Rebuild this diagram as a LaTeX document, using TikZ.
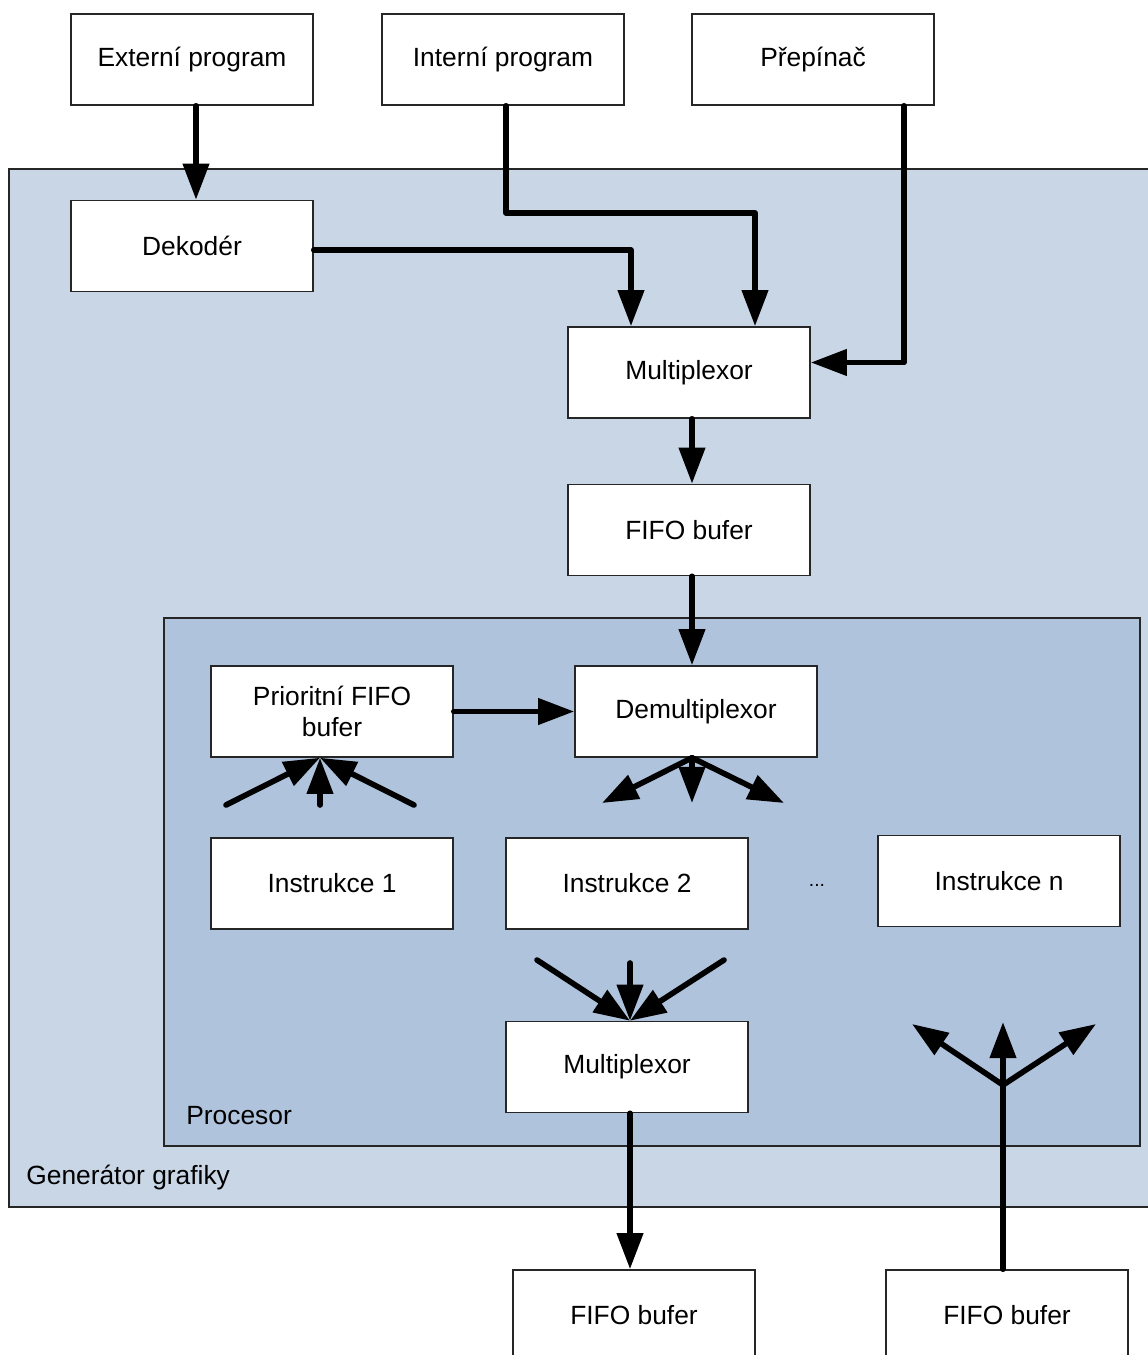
\documentclass[tikz,border=0pt]{standalone}
\usepackage{fontspec}
\setmainfont{Liberation Sans}
\usetikzlibrary{arrows.meta,calc}
\definecolor{genfill}{HTML}{C9D6E6}
\definecolor{procfill}{HTML}{B0C3DC}
\definecolor{edge}{HTML}{262626}
\tikzset{
  blockbox/.style={draw=edge, line width=0.9pt, fill=white, minimum width=4.84cm,
    minimum height=1.82cm, inner sep=0pt, align=center,
    font=\fontsize{15}{18}\selectfont},
  area/.style={draw=edge, line width=0.9pt},
  arealabel/.style={anchor=west, inner sep=0pt, font=\fontsize{15}{18}\selectfont},
  flow/.style={line width=3.2pt, line cap=round, line join=round,
    -{Triangle[length=20.5pt, width=14.5pt]}},
  wire/.style={line width=3.2pt, line cap=round, line join=round},
}
\begin{document}
\begin{tikzpicture}[x=0.02cm, y=-0.02cm]
\path[use as bounding box] (0,0) rectangle (1148,1355);
\clip (0,0) rectangle (1148,1355);

% enclosing areas
\path[area, fill=genfill] (9,169) rectangle (1165,1207);
\node[arealabel] (genlabel) at (26,1178) {Generátor grafiky};
\path[area, fill=procfill] (164,618) rectangle (1140,1146);
\node[arealabel] (proclabel) at (186,1116) {Procesor};

% blocks
\node[blockbox] (ext)   at (192,59.5)  {Externí program};
\node[blockbox] (int)   at (503,59.5)  {Interní program};
\node[blockbox] (pre)   at (813,59.5)  {Přepínač};
\node[blockbox] (dek)   at (192,246)   {Dekodér};
\node[blockbox] (muxA)  at (689,372.5) {Multiplexor};
\node[blockbox] (fifo)  at (689,530)   {FIFO bufer};
\node[blockbox] (prio)  at (332,711.5) {Prioritní FIFO\\bufer};
\node[blockbox] (demux) at (696,711.5) {Demultiplexor};
\node[blockbox] (ins1)  at (332,883.5) {Instrukce 1};
\node[blockbox] (ins2)  at (627,883.5) {Instrukce 2};
\node[blockbox] (insn)  at (999,881)   {Instrukce n};
\node[blockbox] (muxB)  at (627,1067)  {Multiplexor};
\node[blockbox] (fifoL) at (634,1315.5) {FIFO bufer};
\node[blockbox] (fifoR) at (1007,1315.5) {FIFO bufer};
\node[inner sep=0pt, anchor=base, font=\fontsize{11}{11}\selectfont] (dots) at (817,886) {...};

% free ends of the fan arrows
\coordinate (pinL) at (226,805);
\coordinate (pinM) at (320,805);
\coordinate (pinR) at (414,805);
\coordinate (doutL) at (602,803);
\coordinate (doutM) at (692,803);
\coordinate (doutR) at (784,803);
\coordinate (minL) at (537,960);
\coordinate (minM) at (630,963);
\coordinate (minR) at (724,960);
\coordinate (fork) at (1003,1085);
\coordinate (foutL) at (912,1024);
\coordinate (foutM) at (1003,1022);
\coordinate (foutR) at (1096,1024);

% top connections
\draw[flow] ($(ext.south)+(4,0)$) -- ($(dek.north)+(4,0)$);
\draw[flow] ($(int.south)+(3,0)$) -- ++(0,107) -| ($(muxA.north)+(66,0)$);
\draw[flow] ($(dek.east)+(0,4)$) -| ($(muxA.north)+(-58,0)$);
\draw[flow] ($(pre.south)+(91,0)$) |- ($(muxA.east)+(0,-10)$);
\draw[flow] ($(muxA.south)+(3,0)$) -- ($(fifo.north)+(3,0)$);
\draw[flow] ($(fifo.south)+(3,0)$) -- ($(demux.north)+(-4,0)$);
\draw[flow] (prio.east) -- (demux.west);

% fans inside the processor
\foreach \p in {pinL,pinM,pinR}
  \draw[flow] (\p) -- ($(prio.south)+(-12,0)$);
\foreach \p in {doutL,doutM,doutR}
  \draw[flow] ($(demux.south)+(-4,0)$) -- (\p);
\foreach \p in {minL,minM,minR}
  \draw[flow] (\p) -- ($(muxB.north)+(3,0)$);

% outputs
\draw[flow] ($(muxB.south)+(3,0)$) -- ($(fifoL.north)+(-4,0)$);
\draw[wire] ($(fifoR.north)+(-4,0)$) -- (fork);
\foreach \p in {foutL,foutM,foutR}
  \draw[flow] (fork) -- (\p);
\end{tikzpicture}
\end{document}
